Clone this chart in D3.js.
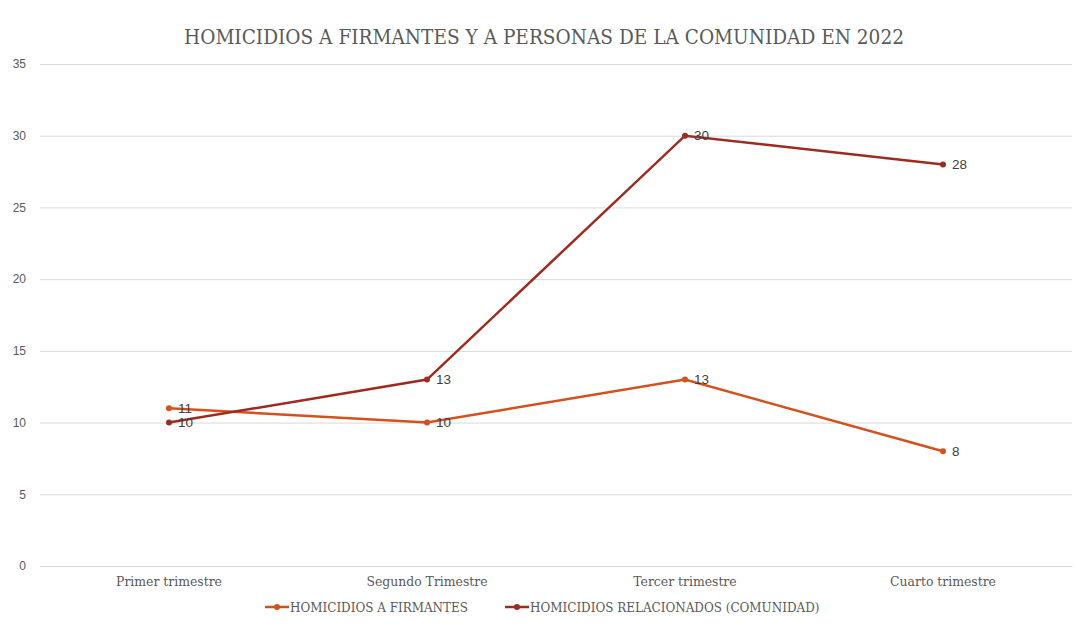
<!DOCTYPE html>
<html>
<head>
<meta charset="utf-8">
<script src="https://cdn.jsdelivr.net/npm/d3@7"></script>
<style>
  html, body { margin: 0; padding: 0; background: #fff; }
  svg { display: block; }
</style>
</head>
<body>
<svg></svg>
<script>
(function (d3) {
    'use strict';

    const categories = ['Primer trimestre', 'Segundo Trimestre', 'Tercer trimestre', 'Cuarto trimestre'];
    const firmantes = [11, 10, 13, 8];
    const comunidad = [10, 13, 30, 28];
    const yTicks = [0, 5, 10, 15, 20, 25, 30, 35];
    const seriesNames = ['HOMICIDIOS A FIRMANTES', 'HOMICIDIOS RELACIONADOS (COMUNIDAD)'];
    const seriesColors = ['#d4501c', '#9c2b20'];

    const width = 1078;
    const height = 629;
    const margin = { top: 64, right: 6, bottom: 63, left: 40 };
    const innerWidth = width - margin.left - margin.right;
    const innerHeight = height - margin.top - margin.bottom;

    const serif = '"DejaVu Serif Condensed", "Liberation Serif", serif';
    const sans = '"Liberation Sans", Arial, sans-serif';

    const svg = d3.select('svg')
        .attr('width', width)
        .attr('height', height);

    svg.append('text')
        .attr('x', 544)
        .attr('y', 44)
        .attr('text-anchor', 'middle')
        .attr('font-family', serif)
        .attr('font-size', 20.6)
        .attr('fill', '#595959')
        .text('HOMICIDIOS A FIRMANTES Y A PERSONAS DE LA COMUNIDAD EN 2022');

    const g = svg.append('g')
        .attr('transform', `translate(${margin.left}, ${margin.top})`);

    const x = d3.scaleBand()
        .domain(categories)
        .range([0, innerWidth]);

    const y = d3.scaleLinear()
        .domain([0, 35])
        .range([innerHeight, 0]);

    // gridlines + y labels
    g.append('g')
        .call(d3.axisLeft(y).tickValues(yTicks).tickSize(-innerWidth).tickPadding(14))
        .call(a => a.select('.domain').remove())
        .call(a => a.selectAll('line').attr('stroke', '#d9d9d9').attr('stroke-width', 1))
        .call(a => a.selectAll('text')
            .attr('fill', '#595959')
            .attr('font-family', sans)
            .attr('font-size', 12));

    // x labels
    g.append('g')
        .attr('transform', `translate(0, ${innerHeight})`)
        .call(d3.axisBottom(x).tickSize(0).tickPadding(10))
        .call(a => a.select('.domain').attr('stroke', '#d9d9d9'))
        .call(a => a.selectAll('text')
            .attr('fill', '#595959')
            .attr('font-family', serif)
            .attr('font-size', 13.8));

    const series = [firmantes, comunidad];
    const line = d3.line()
        .x((d, i) => x(categories[i]) + x.bandwidth() / 2)
        .y(d => y(d));

    series.forEach((vals, s) => {
        g.append('path')
            .datum(vals)
            .attr('fill', 'none')
            .attr('stroke', seriesColors[s])
            .attr('stroke-width', 2.5)
            .attr('d', line);

        g.selectAll(null).data(vals).enter().append('circle')
            .attr('cx', (d, i) => x(categories[i]) + x.bandwidth() / 2)
            .attr('cy', d => y(d))
            .attr('r', 3)
            .attr('fill', seriesColors[s]);

        g.selectAll(null).data(vals).enter().append('text')
            .attr('x', (d, i) => x(categories[i]) + x.bandwidth() / 2 + 9)
            .attr('y', d => y(d))
            .attr('dy', '0.35em')
            .attr('font-family', sans)
            .attr('font-size', 13.5)
            .attr('fill', '#404040')
            .text(d => d);
    });

    // legend
    const legendX = [265, 505];
    const legend = svg.append('g').attr('transform', 'translate(0, 607)');
    seriesNames.forEach((name, s) => {
        const lg = legend.append('g').attr('transform', `translate(${legendX[s]}, 0)`);
        lg.append('line')
            .attr('x1', 0).attr('x2', 24)
            .attr('stroke', seriesColors[s])
            .attr('stroke-width', 2.5);
        lg.append('circle')
            .attr('cx', 12).attr('r', 3)
            .attr('fill', seriesColors[s]);
        lg.append('text')
            .attr('x', 25)
            .attr('dy', '0.35em')
            .attr('font-family', serif)
            .attr('font-size', 13.3)
            .attr('fill', '#595959')
            .text(name);
    });
}(d3));
</script>
</body>
</html>
